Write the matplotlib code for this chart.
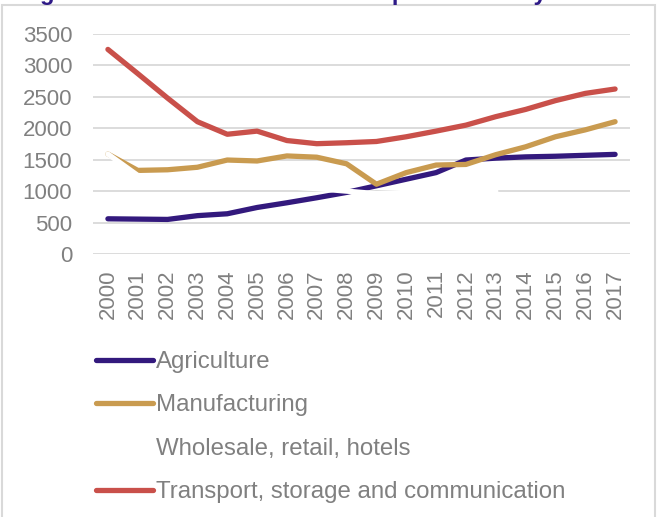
import numpy as np
import matplotlib.pyplot as plt
from matplotlib.patches import Rectangle

plt.rcParams['font.family'] = ['Liberation Sans', 'DejaVu Sans']

# data
years = [str(y) for y in range(2000, 2018)]
agriculture = [560, 555, 550, 610, 640, 740, 815, 895, 980, 1085,
               1190, 1295, 1495, 1525, 1545, 1555, 1570, 1585]
manufacturing = [1590, 1330, 1340, 1380, 1495, 1480, 1560, 1540, 1435, 1110,
                 1295, 1415, 1425, 1580, 1705, 1865, 1975, 2105]
wholesale = [1590, 1250, 1210, 1170, 1130, 1100, 1070, 1040, 1000, 960,
             980, 1000, 1000, 1000, np.nan, np.nan, np.nan, np.nan]
transport = [3255, 2870, 2480, 2105, 1905, 1955, 1805, 1755, 1770, 1790,
             1865, 1955, 2050, 2185, 2300, 2440, 2555, 2625]
yticks = [0, 500, 1000, 1500, 2000, 2500, 3000, 3500]

series = [
    ('Agriculture', agriculture, '#33197d'),
    ('Manufacturing', manufacturing, '#c99b50'),
    ('Wholesale, retail, hotels', wholesale, '#ffffff'),
    ('Transport, storage and communication', transport, '#c9504a'),
]

grey = '#808080'

fig = plt.figure(figsize=(6.58, 5.17), dpi=100)
ax = fig.add_axes([93 / 658, 1 - 254 / 517, 537 / 658, 220 / 517])

x = np.arange(len(years))
for name, vals, col in series:
    ax.plot(x, vals, color=col, linewidth=3.8, label=name,
            solid_capstyle='round', solid_joinstyle='round', zorder=3)

ax.set_xlim(-0.5, len(years) - 0.5)
ax.set_ylim(0, 3500)
ax.set_yticks(yticks)
ax.set_yticklabels([str(v) for v in yticks])
ax.set_xticks(x)
ax.set_xticklabels(years, rotation=90)
ax.tick_params(axis='y', length=0, pad=15, labelsize=16, labelcolor=grey)
ax.tick_params(axis='x', length=0, pad=11, labelsize=16, labelcolor=grey)
ax.yaxis.grid(True, color='#d9d9d9', linewidth=1.3, zorder=0)
ax.set_axisbelow(True)
for s in ax.spines.values():
    s.set_visible(False)

leg = fig.legend(loc='upper left', bbox_to_anchor=(96 / 658, 1 - 351 / 517),
                 frameon=False, fontsize=17.3, handlelength=2.37,
                 handletextpad=0.13, labelspacing=0.89, borderpad=0,
                 borderaxespad=0)
for t in leg.get_texts():
    t.set_color(grey)

# outer chart frame
fig.patches.append(Rectangle((2 / 658, -0.01), 653 / 658, 1 - 5 / 517 + 0.01,
                             transform=fig.transFigure, fill=False,
                             edgecolor='#d9d9d9', linewidth=1.5))

# heading of the report figure, cut off at the top edge
fig.text(19 / 658, 1.0, 'Figure 14: Total real value added per worker by sector',
         fontsize=17, fontweight='bold', color='#2e1a87', va='baseline', ha='left')

fig.savefig('out.png', dpi=100, facecolor='white')
